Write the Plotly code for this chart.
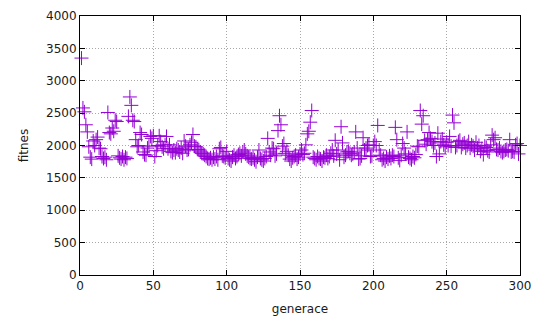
import plotly.graph_objects as go

generations = list(range(1, 301))
fitness = [
    3350, 2580, 2520, 2320, 2210, 1980, 1820, 1790, 2070, 2000,
    2090, 2130, 1960, 1950, 1830, 1800, 1820, 1780, 2510, 2200,
    2180, 2270, 2220, 2390, 2370, 1840, 1810, 1790, 1830, 1780,
    1820, 1800, 2450, 2750, 2620, 2390, 2370, 2090, 1980, 2000,
    2200, 2170, 1900, 1860, 1850, 1960, 1990, 2140, 2110, 2150,
    1830, 1920, 2000, 2150, 2060, 1980, 1950, 2010, 2140, 1950,
    2010, 1910, 1890, 1930, 1890, 1950, 1930, 1900, 1960, 1880,
    2070, 1990, 1930, 1940, 2010, 2050, 2170, 1990, 1980, 1940,
    1930, 1900, 1880, 1870, 1850, 1830, 1800, 1790, 1810, 1780,
    1820, 1790, 1830, 1780, 1950, 1970, 1840, 1830, 1810, 1910,
    1800, 1780, 1760, 1820, 1850, 1800, 1830, 1860, 1880, 1840,
    1900, 1930, 1870, 1840, 1820, 1800, 1790, 1810, 1780, 1750,
    1820, 1930, 1800, 1780, 1760, 1800, 1830, 2110, 1900, 1850,
    1960, 1950, 1840, 1870, 2230, 2460, 2320, 1990, 2030, 1880,
    1910, 1850, 1790, 1760, 1810, 1830, 1850, 1790, 1820, 1870,
    1930, 1860, 1880, 2010, 2180, 2220, 2360, 2540, 1820, 1800,
    1780, 1830, 1800, 1790, 1760, 1820, 1810, 1850, 1800, 1830,
    1880, 1930, 1840, 2080, 1870, 1930, 1780, 2290, 2040, 1820,
    1850, 1900, 1910, 1880, 1850, 1870, 1900, 2210, 1960, 1790,
    1800, 1840, 2120, 1930, 1960, 2000, 2010, 1830, 1840, 2000,
    2060, 2000, 2310, 1930, 1850, 1780, 1800, 1760, 1820, 1790,
    1840, 1800, 1850, 1830, 2280, 2090, 1810, 1770, 1850, 2030,
    1960, 1870, 2210, 1820, 1800, 1780, 1830, 1810, 1860, 1990,
    1980, 2540, 2330, 2460, 2080, 2020, 2090, 2200, 2110, 2060,
    2000, 2040, 1830, 2190, 1870, 2060, 2100, 2010, 1980, 2050,
    2000, 2140, 1990, 2470, 2350, 1970, 2000, 2060, 2080, 1970,
    2020, 2040, 1960, 2000, 2060, 1960, 2010, 1990, 1930, 2050,
    1960, 2000, 1910, 1950, 1860, 1990, 1970, 1920, 1900, 2010,
    2160, 2090, 2120, 1940, 1930, 1960, 1910, 1890, 1910, 1930,
    1940, 1920, 2090, 1900, 1910, 1900, 2010, 2030, 1870, 2000,
]

x_ticks = [0, 50, 100, 150, 200, 250, 300]
y_ticks = [0, 500, 1000, 1500, 2000, 2500, 3000, 3500, 4000]

fig = go.Figure()
fig.add_trace(go.Scatter(
    x=generations, y=fitness, mode="markers",
    marker=dict(symbol="cross-thin-open", size=10, color="#9400D3",
                line=dict(width=1, color="#9400D3")),
    showlegend=False, cliponaxis=False,
))

font = dict(family="DejaVu Sans", size=12, color="#1a1a1a")
axis_common = dict(
    showline=True, linecolor="black", linewidth=1, mirror="ticks",
    ticks="inside", ticklen=5, tickcolor="black", tickwidth=1,
    showgrid=True, gridcolor="#a8a8a8", griddash="1px,2px", gridwidth=1,
    zeroline=False, automargin=False,
    tickfont=font,
)

fig.update_xaxes(range=[0, 300], tickvals=x_ticks,
                 title=dict(text="generace", standoff=12, font=font),
                 **axis_common)
fig.update_yaxes(range=[0, 4000], tickvals=y_ticks,
                 title=dict(text="fitnes", standoff=14, font=font),
                 **axis_common)

# page body has an 8px default margin, so the figure is offset by 8px
fig.update_layout(
    width=532, height=314,
    margin=dict(l=72, r=20, t=8, b=47),
    paper_bgcolor="white", plot_bgcolor="white",
)

fig.write_html("out.html")
